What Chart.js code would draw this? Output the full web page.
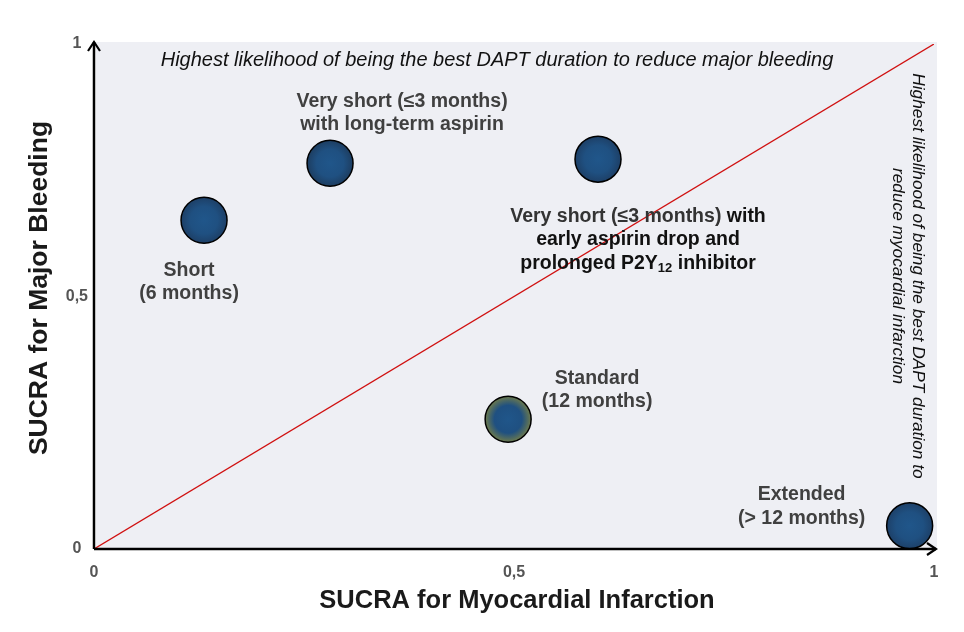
<!DOCTYPE html>
<html>
<head>
<meta charset="utf-8">
<script src="https://cdn.jsdelivr.net/npm/chart.js@4.4.1/dist/chart.umd.min.js"></script>
<style>
  body { margin: 0; background: #ffffff; }
  #wrap { width: 964px; height: 632px; position: relative; }
</style>
</head>
<body>
<div id="wrap"><canvas id="sucraChart"></canvas></div>
<script>
// SUCRA values
const strategies = [
    'Short (6 months)',
    'Very short (≤3 months) with long-term aspirin',
    'Very short (≤3 months) with early aspirin drop and prolonged P2Y12 inhibitor',
    'Standard (12 months)',
    'Extended (> 12 months)'
];
const sucraMI = [0.131, 0.281, 0.600, 0.493, 0.971];
const sucraBleeding = [0.651, 0.764, 0.772, 0.257, 0.046];
const tickValues = [0, 0.5, 1];
const tickLabels = ['0', '0,5', '1'];

// edge tint of each bubble gradient
const edgeColors = ['#1d3f66', '#1d3d60', '#1d3f66', '#6d7a4c', '#1d4068'];

const FONT = "'Liberation Sans', Arial, Helvetica, sans-serif";
const LABEL_GREY = '#404040';
const LABEL_SIZE = 19.5;

// label lines per point, offsets from the bubble centre (px)
const pointLabels = [
    { dx: -15, dy: 50, lines: [['Short'], ['(6 months)']] },
    { dx: 72, dy: -62, lines: [['Very short (≤3 months)'], ['with long-term aspirin']] },
    { dx: 40, dy: 57, lines: [['Very short (≤3 months)', ' with'], ['early aspirin drop and'], ['prolonged P2Y', '12', ' inhibitor']] },
    { dx: 89, dy: -41, lines: [['Standard'], ['(12 months)']] },
    { dx: -108, dy: -31, lines: [['Extended'], ['(> 12 months)']] }
];

const points = sucraMI.map((v, i) => ({ x: v, y: sucraBleeding[i] }));

function bubbleFill(ctx) {
    const chart = ctx.chart;
    const i = ctx.dataIndex;
    if (!chart.chartArea || i === undefined) return '#1f4e7a';
    const px = chart.scales.x.getPixelForValue(sucraMI[i]);
    const py = chart.scales.y.getPixelForValue(sucraBleeding[i]);
    const g = chart.ctx.createRadialGradient(px, py, 0, px, py, 23);
    g.addColorStop(0, '#20568a');
    g.addColorStop(0.6, '#1f5081');
    g.addColorStop(1, edgeColors[i]);
    return g;
}

const decorPlugin = {
    id: 'decor',
    beforeDraw(chart) {
        const c = chart.ctx;
        const a = chart.chartArea;
        c.save();
        c.fillStyle = '#eeeff4';
        c.fillRect(a.left + 2, a.top - 2, a.right - a.left + 1, a.bottom - a.top + 2);
        c.restore();
    },
    afterDraw(chart) {
        const c = chart.ctx;
        const a = chart.chartArea;
        c.save();
        // axes with arrows
        c.strokeStyle = '#000';
        c.lineWidth = 2.5;
        c.beginPath();
        c.moveTo(a.left, a.bottom);
        c.lineTo(a.right + 2, a.bottom);
        c.moveTo(a.left, a.bottom);
        c.lineTo(a.left, a.top - 2);
        c.stroke();
        c.lineWidth = 2.2;
        c.beginPath();
        c.moveTo(a.right - 7, a.bottom - 6);
        c.lineTo(a.right + 2, a.bottom);
        c.lineTo(a.right - 7, a.bottom + 6);
        c.moveTo(a.left - 6, a.top + 7);
        c.lineTo(a.left, a.top - 2);
        c.lineTo(a.left + 6, a.top + 7);
        c.stroke();

        // axis titles
        c.fillStyle = '#1a1a1a';
        c.font = 'bold 25.5px ' + FONT;
        c.textAlign = 'center';
        c.textBaseline = 'middle';
        c.fillText('SUCRA for Myocardial Infarction', 517, 601);
        c.save();
        c.translate(40, 288);
        c.rotate(-Math.PI / 2);
        c.font = 'bold 26.5px ' + FONT;
        c.fillText('SUCRA for Major Bleeding', 0, 0);
        c.restore();

        // quadrant notes
        c.fillStyle = '#111';
        c.font = 'italic 20px ' + FONT;
        c.fillText('Highest likelihood of being the best DAPT duration to reduce major bleeding', 497, 60);
        c.save();
        c.translate(908, 276);
        c.rotate(Math.PI / 2);
        c.font = 'italic 17.3px ' + FONT;
        c.fillText('Highest likelihood of being the best DAPT duration to', 0, -10);
        c.fillText('reduce myocardial infarction', 0, 10);
        c.restore();

        // point labels
        pointLabels.forEach((lab, i) => {
            const px = chart.scales.x.getPixelForValue(sucraMI[i]);
            const py = chart.scales.y.getPixelForValue(sucraBleeding[i]);
            const cx = px + lab.dx;
            lab.lines.forEach((parts, li) => {
                const y = py + lab.dy + li * 23.5;
                drawLine(c, parts, cx, y, i === 2);
            });
        });
        c.restore();
    }
};

function drawLine(c, parts, cx, y, dark) {
    const big = 'bold ' + LABEL_SIZE + 'px ' + FONT;
    const small = 'bold 13px ' + FONT;
    const widths = parts.map(p => {
        c.font = (p === '12') ? small : big;
        return c.measureText(p).width;
    });
    const total = widths.reduce((s, w) => s + w, 0);
    let x = cx - total / 2;
    c.textAlign = 'left';
    parts.forEach((p, k) => {
        c.font = (p === '12') ? small : big;
        let col = dark ? '#111' : LABEL_GREY;
        if (dark && p === 'Very short (≤3 months)') col = '#333';
        c.fillStyle = col;
        c.fillText(p, x, (p === '12') ? y + 5 : y);
        x += widths[k];
    });
    c.textAlign = 'center';
}

const ctx = document.getElementById('sucraChart').getContext('2d');
new Chart(ctx, {
    type: 'scatter',
    data: {
        datasets: [
            {
                label: 'Equal SUCRA',
                data: [{ x: 0, y: 0 }, { x: 1, y: 1 }],
                showLine: true,
                borderColor: '#d01010',
                borderWidth: 1.3,
                pointRadius: 0,
                order: 2
            },
            {
                label: 'DAPT strategies',
                data: points,
                pointRadius: 23,
                pointHoverRadius: 23,
                backgroundColor: bubbleFill,
                borderColor: '#000',
                borderWidth: 1.5,
                order: 1
            }
        ]
    },
    options: {
        responsive: true,
        maintainAspectRatio: false,
        animation: false,
        layout: { padding: { top: 44, right: 30, left: 0, bottom: 0 } },
        plugins: {
            legend: { display: false },
            tooltip: { enabled: false }
        },
        scales: {
            x: {
                type: 'linear',
                min: 0,
                max: 1,
                afterFit: s => { s.height = 83; },
                afterBuildTicks: s => { s.ticks = tickValues.map(v => ({ value: v })); },
                grid: { display: false, drawTicks: false },
                border: { display: false },
                ticks: {
                    padding: 14,
                    color: '#555',
                    font: { family: FONT, size: 16, weight: 'bold' },
                    callback: v => tickLabels[tickValues.indexOf(v)]
                }
            },
            y: {
                type: 'linear',
                min: 0,
                max: 1,
                afterFit: s => { s.width = 94; },
                afterBuildTicks: s => { s.ticks = tickValues.map(v => ({ value: v })); },
                grid: { display: false, drawTicks: false },
                border: { display: false },
                ticks: {
                    padding: 6,
                    crossAlign: 'center',
                    color: '#555',
                    font: { family: FONT, size: 16, weight: 'bold' },
                    callback: v => tickLabels[tickValues.indexOf(v)]
                }
            }
        }
    },
    plugins: [decorPlugin]
});
</script>
</body>
</html>
